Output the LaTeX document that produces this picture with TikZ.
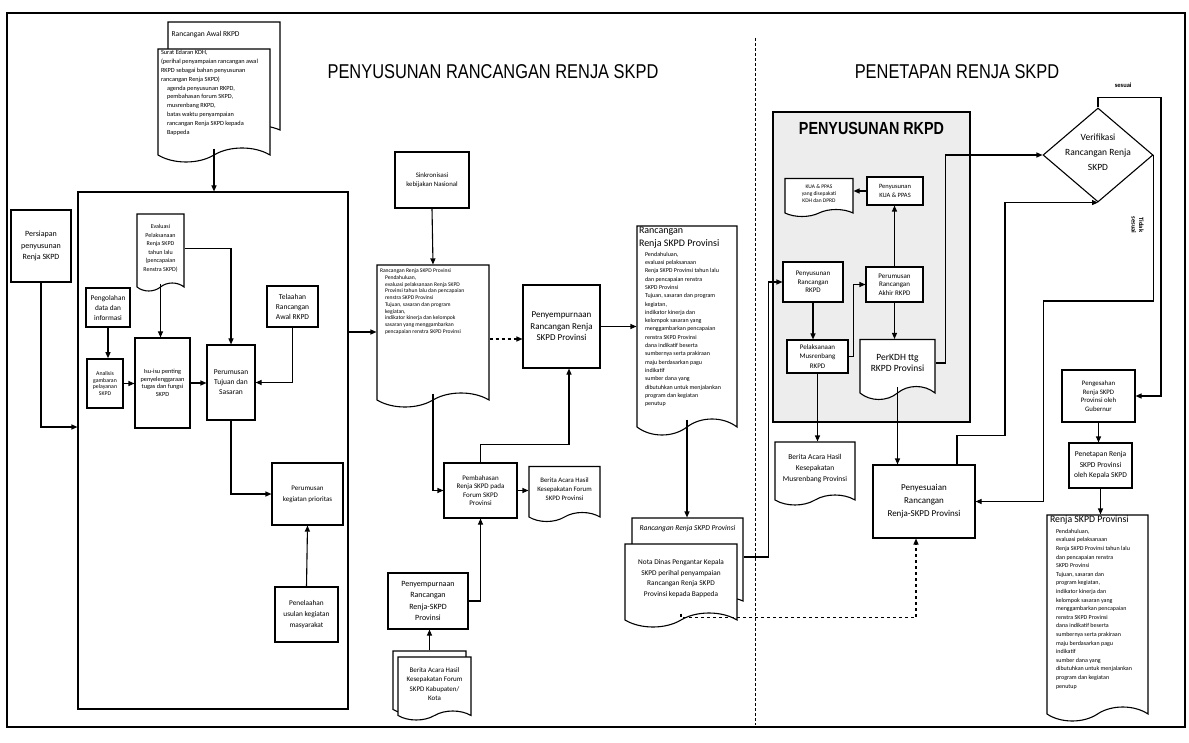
\documentclass[tikz,border=0pt]{standalone}
\usepackage{fontspec}
\setmainfont{Carlito}
\newfontfamily\titlefont[FakeStretch=0.82]{Liberation Sans}
\usetikzlibrary{arrows.meta, shapes.geometric, shapes.symbols, calc}
\newcommand{\fsz}[2]{\fontsize{#1}{#2}\selectfont}

\begin{document}
\begin{tikzpicture}[
    x=1pt, y=-1pt,
    font=\fsz{7}{9},
    dim/.style 2 args={minimum width=#1, minimum height=#2},
    box/.style={rectangle, draw=black, line width=1.1pt, fill=white, align=center, inner sep=1pt},
    doc/.style={tape, tape bend top=none, tape bend height=#1, draw=black, line width=1.1pt,
                fill=white, align=center, inner sep=1pt},
    doc/.default=10pt,
    panel/.style={rectangle, draw=black, line width=1.1pt},
    rkpdbox/.style={rectangle, draw=black, line width=1.1pt, fill=black!7},
    decision/.style={diamond, draw=black, line width=1.1pt, fill=white, inner sep=0pt},
    arr/.style={-{Triangle[length=6pt,width=5pt]}, line width=1.1pt},
    ttl/.style={font=\titlefont\fsz{20}{23}},
    lbl/.style={inner sep=1pt, font=\bfseries\fsz{6.5}{7.5}},
]
\useasboundingbox (0,0) rectangle (1189,743);

% --- frame, divider, titles ---
\draw[line width=1.3pt] (7,13) rectangle (1185,727);
\draw[line width=1pt, dash pattern=on 3pt off 2pt] (755,38) -- (755,725);
\node[ttl] (tleft)  at (493,72) {PENYUSUNAN RANCANGAN RENJA SKPD};
\node[ttl] (tright) at (957,72) {PENETAPAN RENJA SKPD};

% --- LEFT: preparation panel ---
\node[doc, dim={112}{113}, label={[font=\fsz{7.5}{9}, anchor=north west, inner sep=0pt, xshift=4pt, yshift=-10pt]north west:Rancangan Awal RKPD}] (awal) at (224,73.5) {};
\node[doc=14pt, dim={112}{113}, font=\fsz{6.3}{8.8}] (edaran) at (214,98.5) {\parbox[c][96pt][t]{106pt}{\raggedright Surat Edaran KDH,\\ (perihal penyampaian rancangan awal\\ RKPD sebagai bahan penyusunan\\ rancangan Renja SKPD)\par
  {\leftskip=6pt agenda penyusunan RKPD,\\ pembahasan forum SKPD,\\ musrenbang RKPD,\\ batas waktu penyampaian\\ rancangan Renja SKPD kepada\\ Bappeda\par}}};

\node[panel, dim={270}{517}] (panel) at (213,450.5) {};
\node[box, dim={60}{72}, font=\fsz{8}{11.5}] (persiapan) at (41,246) {Persiapan\\penyusunan\\Renja SKPD};
\node[doc=8pt, dim={47}{77}, font=\fsz{6}{8.5}] (evaluasi) at (160.5,248.5) {Evaluasi\\Pelaksanaan\\Renja SKPD\\tahun lalu\\(pencapaian\\Renstra SKPD)};
\node[box, dim={44}{39}, font=\fsz{7.3}{10}] (pengolahan) at (108,307.5) {Pengolahan\\data dan\\informasi};
\node[box, line width=1.6pt, dim={36}{49}, font=\fsz{5.8}{6.8}] (analisis) at (105,383.5) {Analisis\\gambaran\\pelayanan\\SKPD};
\node[box, dim={55}{90}, font=\fsz{6.3}{7.6}] (isu) at (162.5,383) {Isu-isu penting\\penyelenggaraan\\tugas dan fungsi\\SKPD};
\node[box, dim={48}{75}, font=\fsz{7.5}{10}] (tujuan) at (231,382.5) {Perumusan\\Tujuan dan\\Sasaran};
\node[box, dim={51}{41}, font=\fsz{7.5}{10}] (telaahan) at (292.5,306.5) {Telaahan\\Rancangan\\Awal RKPD};
\node[box, dim={71}{62}, font=\fsz{7}{11}] (prioritas) at (307.5,494) {Perumusan\\kegiatan prioritas};
\node[box, dim={63}{55}, font=\fsz{7.3}{11}] (usulan) at (306.5,614.5) {Penelaahan\\usulan kegiatan\\masyarakat};

% --- MIDDLE: draft and forum ---
\node[box, dim={74}{56}, font=\fsz{6.8}{9}] (sinkron) at (432,180) {Sinkronisasi\\kebijakan Nasional};
\node[doc=14pt, dim={112}{142}, font=\fsz{5.6}{6.7}] (rancawal) at (433,329) {\parbox[c][120pt][t]{106pt}{\raggedright Rancangan Renja SKPD Provinsi\par
  {\leftskip=5pt Pendahuluan,\\ evaluasi pelaksanaan Renja SKPD\\ Provinsi tahun lalu dan pencapaian\\ renstra SKPD Provinsi\\ Tujuan, sasaran dan program\\ kegiatan,\\ indikator kinerja dan kelompok\\ sasaran yang menggambarkan\\ pencapaian renstra SKPD Provinsi\par}}};
\node[box, dim={77}{83}, font=\fsz{9}{11.5}] (penyemp) at (561.5,326.5) {Penyempurnaan\\Rancangan Renja\\SKPD Provinsi};
\node[box, dim={73}{55}, font=\fsz{7}{8.6}] (pembahasan) at (480.5,490.5) {Pembahasan\\Renja SKPD pada\\Forum SKPD\\Provinsi};
\node[doc=9pt, dim={71}{55}, font=\fsz{6.8}{9}] (baforum) at (564.5,489.5) {Berita Acara Hasil\\Kesepakatan Forum\\SKPD Provinsi};
\node[box, dim={80}{56}, font=\fsz{8}{11.5}] (penyemp2) at (428,601) {Penyempurnaan\\Rancangan\\Renja-SKPD\\Provinsi};
\node[doc=9pt, dim={73}{63}] (bakabback) at (429.5,678) {};
\node[doc=9pt, dim={73}{63}, font=\fsz{7}{9.5}] (bakab) at (434.5,684) {Berita Acara Hasil\\Kesepakatan Forum\\SKPD Kabupaten/\\Kota};

\node[doc=16pt, dim={100}{209}] (rancrenja) at (687,322.5) {\parbox[c][190pt][t]{96pt}{\raggedright{\fsz{10}{13}Rancangan\\Renja SKPD Provinsi\par}\vspace{1pt}
  {\leftskip=6pt\fsz{6}{8.3} Pendahuluan,\\ evaluasi pelaksanaan\\ Renja SKPD Provinsi tahun lalu\\ dan pencapaian renstra\\ SKPD Provinsi\\ Tujuan, sasaran dan program\\ kegiatan,\\ indikator kinerja dan\\ kelompok sasaran yang\\ menggambarkan pencapaian\\ renstra SKPD Provinsi\\ dana indikatif beserta\\ sumbernya serta prakiraan\\ maju berdasarkan pagu\\ indikatif\\ sumber dana yang\\ dibutuhkan untuk menjalankan\\ program dan kegiatan\\ penutup\par}}};
\node[doc=10pt, dim={111}{88}, label={[font=\itshape\fsz{7.5}{9}, anchor=north, inner sep=0pt, yshift=-8pt]north:Rancangan Renja SKPD Provinsi}] (notaback) at (687.5,557) {};
\node[doc=14pt, dim={112}{83}, font=\fsz{7.3}{10.5}] (nota) at (681,578.5) {Nota Dinas Pengantar Kepala\\SKPD perihal penyampaian\\Rancangan Renja SKPD\\Provinsi kepada Bappeda};

% --- RIGHT: RKPD block ---
\node[rkpdbox, dim={197}{310}, label={[anchor=north, inner sep=0pt, yshift=-11pt, font=\titlefont\bfseries\fsz{17.5}{19}]north:PENYUSUNAN RKPD}] (rkpd) at (871.5,267) {};
\node[doc=7pt, dim={68}{38}, font=\fsz{5.5}{7}] (kuadoc) at (819,194) {KUA \& PPAS\\yang disepakati\\KDH dan DPRD};
\node[box, dim={56}{28}, font=\fsz{6.5}{9}] (kuappas) at (895,191) {Penyusunan\\KUA \& PPAS};
\node[box, dim={60}{40}, font=\fsz{7}{8.5}] (ranrkpd) at (813,282) {Penyusunan\\Rancangan\\RKPD};
\node[box, dim={57}{35}, font=\fsz{7}{8.5}] (akhir) at (894.5,284.5) {Perumusan\\Rancangan\\Akhir RKPD};
\node[box, dim={61}{33}, font=\fsz{7}{9.5}] (musren) at (817.5,356.5) {Pelaksanaan\\Musrenbang\\RKPD};
\node[doc=13pt, dim={75}{60}, font=\fsz{9.5}{11.5}] (perkdh) at (897.5,363) {PerKDH ttg\\RKPD Provinsi};
\node[doc=10pt, dim={80}{63}, font=\fsz{7.5}{11}] (bamus) at (815,468.5) {Berita Acara Hasil\\Kesepakatan\\Musrenbang Provinsi};
\node[box, dim={102}{73}, font=\fsz{9}{13}] (penyes) at (924,501.5) {Penyesuaian\\Rancangan\\Renja-SKPD Provinsi};

% --- RIGHT: verification and approval ---
\node[decision, dim={110}{94}, font=\fsz{9.5}{15}] (verif) at (1098,155) {\makebox[0pt]{\smash{\begin{tabular}{@{}c@{}}Verifikasi\\Rancangan Renja\\SKPD\end{tabular}}}};
\node[box, dim={73}{52}, font=\fsz{6.8}{8.6}] (pengesahan) at (1098.5,396) {Pengesahan\\Renja SKPD\\Provinsi oleh\\Gubernur};
\node[box, dim={63}{45}, font=\fsz{7.5}{10.5}] (penetapan) at (1100.5,465.5) {Penetapan Renja\\SKPD Provinsi\\oleh Kepala SKPD};
\node[doc=14pt, dim={101}{206}] (renja) at (1097.5,611) {\parbox[c][190pt][t]{95pt}{\raggedright{\fsz{9.8}{12}Renja SKPD Provinsi\par}\vspace{2pt}
  {\leftskip=6pt\fsz{6}{8.6} Pendahuluan,\\ evaluasi pelaksanaan\\ Renja SKPD Provinsi tahun lalu\\ dan pencapaian renstra\\ SKPD Provinsi\\ Tujuan, sasaran dan\\ program kegiatan,\\ indikator kinerja dan\\ kelompok sasaran yang\\ menggambarkan pencapaian\\ renstra SKPD Provinsi\\ dana indikatif beserta\\ sumbernya serta prakiraan\\ maju berdasarkan pagu\\ indikatif\\ sumber dana yang\\ dibutuhkan untuk menjalankan\\ program dan kegiatan\\ penutup\par}}};

% --- Arrows: left panel ---
\draw[arr] (edaran.south) -- (edaran.south |- panel.north);
\draw[arr] (persiapan.south) |- (panel.west |- 0,427);
\draw[arr] (pengolahan.south) -- (pengolahan.south |- analisis.north);
\draw[arr] (analisis.east) -- (analisis.east -| isu.west);
\draw[arr] (evaluasi.south) -- (evaluasi.south |- isu.north);
\draw[arr] (evaluasi.east) -| (tujuan.north);
\draw[arr] (isu.east) -- (isu.east -| tujuan.west);
\draw[arr] (telaahan.south) |- (tujuan.east);
\draw[arr] (tujuan.south) |- (prioritas.west);
\draw[arr] (usulan.north) -- (prioritas.south);

% --- middle ---
\draw[arr] (panel.east |- 0,332) -- (rancawal.west |- 0,332);
\draw[arr] (sinkron.south) -- (rancawal.north);
\draw[arr] (rancawal.south) |- (pembahasan.west);
\draw[arr, dashed] (rancawal.east |- 0,339) -- (penyemp.west |- 0,339);
\draw[arr] (penyemp.east) -- (penyemp.east -| rancrenja.west);
\draw[arr] (pembahasan.north) -- ++(0,-18) -| ([xshift=7.5pt]penyemp.south);
\draw[arr] (pembahasan.east) -- (pembahasan.east -| baforum.west);
\draw[arr] (penyemp2.east) -| (pembahasan.south);
\draw[arr] (bakabback.north) -- (bakabback.north |- penyemp2.south);
\draw[arr] (rancrenja.south) -- (rancrenja.south |- notaback.north);
\draw[arr] (notaback.east) -- ++(25,0) |- (ranrkpd.west);
\draw[arr, dashed] (nota.south) -- ++(0,4) -| ([xshift=-8pt]penyes.south);

% --- RKPD block ---
\draw[arr] (kuappas.west) -- (kuappas.west -| kuadoc.east);
\draw[arr] (akhir.north) -- (akhir.north |- kuappas.south);
\draw[arr] (ranrkpd.south) -- (ranrkpd.south |- musren.north);
\draw[arr] (musren.east) -- ++(5,0) |- (akhir.west);
\draw[arr] (akhir.south) -- (akhir.south |- perkdh.north);
\draw[arr] (perkdh.east) -- ++(10,0) |- (verif.west);
\draw[arr] (musren.south) -- (musren.south |- bamus.north);
\draw[arr] (perkdh.south) -- (perkdh.south |- penyes.north);

% --- verification loop ---
\draw[arr] ([xshift=33pt]penyes.north) -- ++(0,-29) -- ++(48,0) |- (verif.south);
\draw[arr] (verif.north) -- ++(0,-10) -- ++(63,0) node[lbl, pos=0.4, above=8pt] (lblsesuai) {sesuai} |- (pengesahan.east);
\draw[arr] (verif.east) -- ++(0,146) -- ++(-110,0) |- (penyes.east);
\node[lbl, rotate=-90, align=center] (lbltidak) at ($(verif.east)+(-16,70)$) {Tidak\\sesuai};
\draw[arr] (pengesahan.south) -- (pengesahan.south |- penetapan.north);
\draw[arr] (penetapan.south) -- (penetapan.south |- renja.north);
\end{tikzpicture}
\end{document}
